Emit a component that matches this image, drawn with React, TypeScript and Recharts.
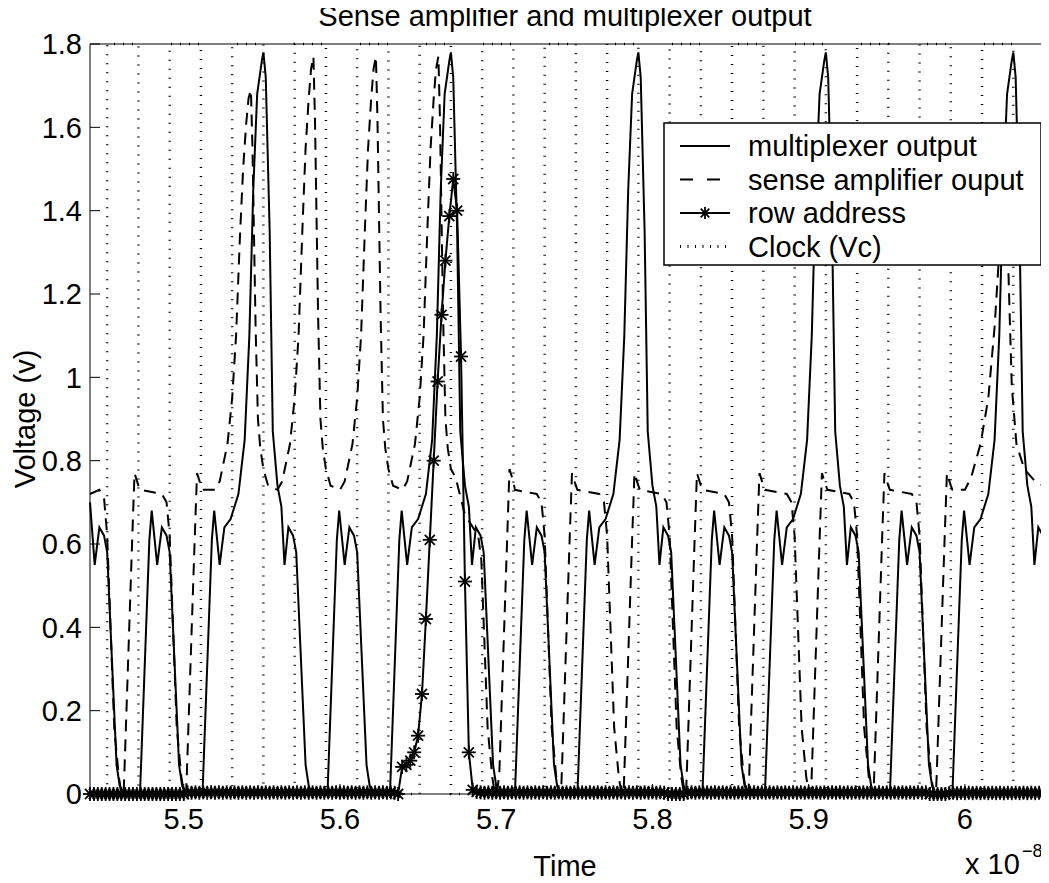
import React from 'react';
import { LineChart, Line, XAxis, YAxis } from 'recharts';

type Pt = [number, number];

const FONT = '"Liberation Sans", Arial, Helvetica, sans-serif';

// time is in units of 1e-8 s, as the axis shows
const xTicks = [5.5, 5.6, 5.7, 5.8, 5.9, 6];
const yTicks = [0, 0.2, 0.4, 0.6, 0.8, 1, 1.2, 1.4, 1.6, 1.8];

const clockEdges = [
  5.451, 5.471, 5.491, 5.511, 5.531, 5.551, 5.571, 5.591, 5.611, 5.631,
  5.651, 5.671, 5.691, 5.711, 5.731, 5.751, 5.771, 5.791, 5.811, 5.831,
  5.851, 5.871, 5.891, 5.911, 5.931, 5.951, 5.971, 5.991, 6.011, 6.031,
];

const muxOutput: Pt[] = [
  [5.44, 0.7], [5.443, 0.55], [5.446, 0.64], [5.449, 0.62], [5.451, 0.58], [5.457, 0.07], [5.459, 0.02], [5.461, 0],
  [5.472, 0], [5.478, 0.61], [5.4795, 0.68], [5.483, 0.55], [5.486, 0.64], [5.489, 0.62], [5.491, 0.58], [5.497, 0.07], [5.499, 0.02], [5.501, 0],
  [5.512, 0], [5.518, 0.61], [5.5195, 0.68], [5.523, 0.55], [5.526, 0.64], [5.53, 0.66], [5.535, 0.72], [5.539, 0.85], [5.542, 1.1], [5.5445, 1.45], [5.547, 1.68], [5.55, 1.76], [5.551, 1.78],
  [5.5525, 1.72], [5.555, 1.35], [5.557, 0.87], [5.56, 0.74], [5.5625, 0.69], [5.5645, 0.55], [5.567, 0.64], [5.57, 0.62], [5.572, 0.58], [5.578, 0.07], [5.58, 0.02], [5.582, 0],
  [5.592, 0], [5.598, 0.61], [5.5995, 0.68], [5.603, 0.55], [5.606, 0.64], [5.609, 0.62], [5.611, 0.58], [5.617, 0.07], [5.619, 0.02], [5.621, 0],
  [5.632, 0], [5.638, 0.61], [5.6395, 0.68], [5.643, 0.55], [5.646, 0.64], [5.65, 0.66], [5.655, 0.72], [5.659, 0.85], [5.662, 1.1], [5.6645, 1.45], [5.667, 1.68], [5.67, 1.76], [5.671, 1.78],
  [5.6725, 1.72], [5.675, 1.35], [5.677, 0.87], [5.68, 0.74], [5.6825, 0.69], [5.6845, 0.55], [5.687, 0.64], [5.69, 0.62], [5.692, 0.58], [5.698, 0.07], [5.7, 0.02], [5.702, 0],
  [5.712, 0], [5.718, 0.61], [5.7195, 0.68], [5.723, 0.55], [5.726, 0.64], [5.729, 0.62], [5.731, 0.58], [5.737, 0.07], [5.739, 0.02], [5.741, 0],
  [5.752, 0], [5.758, 0.61], [5.7595, 0.68], [5.763, 0.55], [5.766, 0.64], [5.77, 0.66], [5.775, 0.72], [5.779, 0.85], [5.782, 1.1], [5.7845, 1.45], [5.787, 1.68], [5.79, 1.76], [5.791, 1.78],
  [5.7925, 1.72], [5.795, 1.35], [5.797, 0.87], [5.8, 0.74], [5.8025, 0.69], [5.8045, 0.55], [5.807, 0.64], [5.81, 0.62], [5.812, 0.58], [5.818, 0.07], [5.82, 0.02], [5.822, 0],
  [5.832, 0], [5.838, 0.61], [5.8395, 0.68], [5.843, 0.55], [5.846, 0.64], [5.849, 0.62], [5.851, 0.58], [5.857, 0.07], [5.859, 0.02], [5.861, 0],
  [5.872, 0], [5.878, 0.61], [5.8795, 0.68], [5.883, 0.55], [5.886, 0.64], [5.89, 0.66], [5.895, 0.72], [5.899, 0.85], [5.902, 1.1], [5.9045, 1.45], [5.907, 1.68], [5.91, 1.76], [5.911, 1.78],
  [5.9125, 1.72], [5.915, 1.35], [5.917, 0.87], [5.92, 0.74], [5.9225, 0.69], [5.9245, 0.55], [5.927, 0.64], [5.93, 0.62], [5.932, 0.58], [5.938, 0.07], [5.94, 0.02], [5.942, 0],
  [5.952, 0], [5.958, 0.61], [5.9595, 0.68], [5.963, 0.55], [5.966, 0.64], [5.969, 0.62], [5.971, 0.58], [5.977, 0.07], [5.979, 0.02], [5.981, 0],
  [5.992, 0], [5.998, 0.61], [5.9995, 0.68], [6.003, 0.55], [6.006, 0.64], [6.01, 0.66], [6.015, 0.72], [6.019, 0.85], [6.022, 1.1], [6.0245, 1.45], [6.027, 1.68], [6.03, 1.76], [6.031, 1.78],
  [6.0325, 1.72], [6.035, 1.35], [6.037, 0.87], [6.04, 0.74], [6.0425, 0.69], [6.0445, 0.55], [6.047, 0.64], [6.05, 0.62],
];

const senseAmpOutput: Pt[] = [
  [5.44, 0.72], [5.446, 0.73], [5.449, 0.71], [5.451, 0.62], [5.4555, 0.16], [5.4585, 0.04], [5.46, 0.005], [5.4615, 0], [5.462, 0.05], [5.467, 0.61], [5.4685, 0.77], [5.471, 0.74],
  [5.472, 0.73], [5.486, 0.72], [5.489, 0.7], [5.491, 0.62], [5.4955, 0.16], [5.4985, 0.04], [5.5, 0.005], [5.5015, 0], [5.502, 0.05], [5.507, 0.61], [5.5085, 0.77], [5.511, 0.74],
  [5.512, 0.73], [5.52, 0.73], [5.523, 0.75], [5.528, 0.84], [5.531, 0.95], [5.5335, 1.1], [5.536, 1.34], [5.538, 1.5], [5.54, 1.61], [5.5415, 1.67], [5.543, 1.69], [5.544, 1.55], [5.546, 1.12], [5.5475, 0.9], [5.549, 0.83], [5.551, 0.78],
  [5.554, 0.74], [5.56, 0.73], [5.563, 0.75], [5.568, 0.84], [5.571, 0.95], [5.5735, 1.1], [5.576, 1.36], [5.578, 1.55], [5.58, 1.67], [5.5815, 1.74], [5.583, 1.77], [5.584, 1.62], [5.586, 1.15], [5.5875, 0.9], [5.589, 0.83], [5.591, 0.78],
  [5.594, 0.74], [5.6, 0.73], [5.603, 0.75], [5.608, 0.84], [5.611, 0.95], [5.6135, 1.1], [5.616, 1.36], [5.618, 1.55], [5.62, 1.67], [5.6215, 1.74], [5.623, 1.77], [5.624, 1.62], [5.626, 1.15], [5.6275, 0.9], [5.629, 0.83], [5.631, 0.78],
  [5.634, 0.74], [5.64, 0.73], [5.643, 0.75], [5.648, 0.84], [5.651, 0.95], [5.6535, 1.1], [5.656, 1.36], [5.658, 1.55], [5.66, 1.67], [5.6615, 1.74], [5.663, 1.77], [5.664, 1.62], [5.666, 1.15], [5.6675, 0.9], [5.669, 0.83], [5.671, 0.78],
  [5.674, 0.76], [5.678, 0.7], [5.68, 0.67], [5.6885, 0.62], [5.6905, 0.56], [5.6945, 0.16], [5.6975, 0.04], [5.699, 0.005], [5.7005, 0], [5.702, 0.05], [5.707, 0.61], [5.7085, 0.78], [5.711, 0.75],
  [5.712, 0.73], [5.726, 0.72], [5.729, 0.7], [5.731, 0.62], [5.7355, 0.16], [5.7385, 0.04], [5.74, 0.005], [5.7415, 0], [5.742, 0.05], [5.747, 0.61], [5.7485, 0.77], [5.751, 0.74],
  [5.752, 0.73], [5.766, 0.72], [5.769, 0.7], [5.771, 0.62], [5.7755, 0.16], [5.7785, 0.04], [5.78, 0.005], [5.7815, 0], [5.782, 0.05], [5.787, 0.61], [5.7885, 0.77], [5.791, 0.74],
  [5.792, 0.73], [5.806, 0.72], [5.809, 0.7], [5.811, 0.62], [5.8155, 0.16], [5.8185, 0.04], [5.82, 0.005], [5.8215, 0], [5.822, 0.05], [5.827, 0.61], [5.8285, 0.77], [5.831, 0.74],
  [5.832, 0.73], [5.846, 0.72], [5.849, 0.7], [5.851, 0.62], [5.8555, 0.16], [5.8585, 0.04], [5.86, 0.005], [5.8615, 0], [5.862, 0.05], [5.867, 0.61], [5.8685, 0.77], [5.871, 0.74],
  [5.872, 0.73], [5.886, 0.72], [5.889, 0.7], [5.891, 0.62], [5.8955, 0.16], [5.8985, 0.04], [5.9, 0.005], [5.9015, 0], [5.902, 0.05], [5.907, 0.61], [5.9085, 0.77], [5.911, 0.74],
  [5.912, 0.73], [5.926, 0.72], [5.929, 0.7], [5.931, 0.62], [5.9355, 0.16], [5.9385, 0.04], [5.94, 0.005], [5.9415, 0], [5.942, 0.05], [5.947, 0.61], [5.9485, 0.77], [5.951, 0.74],
  [5.952, 0.73], [5.966, 0.72], [5.969, 0.7], [5.971, 0.62], [5.9755, 0.16], [5.9785, 0.04], [5.98, 0.005], [5.9815, 0], [5.982, 0.05], [5.987, 0.61], [5.9885, 0.77], [5.991, 0.74],
  [5.992, 0.73], [6.0, 0.73], [6.004, 0.76], [6.01, 0.84], [6.015, 0.95], [6.019, 1.12], [6.022, 1.3], [6.0245, 1.42], [6.026, 1.46], [6.0275, 1.3], [6.03, 0.98], [6.033, 0.84], [6.038, 0.78], [6.045, 0.75], [6.05, 0.74],
];

// row address: samples every 0.0025 before and after the pulse
const rowBefore = [
  0, 0, 0, 0, 0, 0, 0, 0, 0, 0, 0, 0, 0, 0, 0, 0, 0, 0, 0, 0,
  0, 0, 0, 0, 0, 0.004, 0.003, 0.004, 0.003, 0.004, 0.003, 0.004, 0.003, 0.004, 0.003, 0.004, 0.003, 0.004, 0.003, 0.004,
  0.003, 0.004, 0.003, 0.004, 0.003, 0.004, 0.003, 0.004, 0.003, 0.004, 0.003, 0.004, 0.003, 0.004, 0.003, 0.004, 0.003, 0.004, 0.003, 0.004,
  0.003, 0.004, 0.003, 0.004, 0.003, 0.004, 0.003, 0.004, 0.003, 0.004, 0.003, 0.004, 0.003, 0.004, 0.003, 0.004, 0.003, 0.004, 0.003,
];
const rowPulse: Pt[] = [
  [5.6372, 0], [5.6398, 0.065], [5.6425, 0.07], [5.645, 0.08], [5.6475, 0.1], [5.65, 0.14], [5.6525, 0.24],
  [5.655, 0.42], [5.6575, 0.61], [5.66, 0.8], [5.6625, 0.99], [5.665, 1.15], [5.6675, 1.28], [5.67, 1.387],
  [5.6725, 1.476], [5.675, 1.4], [5.6775, 1.05], [5.68, 0.51], [5.6825, 0.1], [5.685, 0.01],
];
const rowAfter = [
  0.005, 0.004, 0.003, 0.004, 0.003, 0.004, 0.003, 0.004, 0.003, 0.004, 0.003, 0.004, 0.003, 0.004, 0.003, 0.004, 0.003, 0.004, 0.003, 0.004,
  0.003, 0.004, 0.003, 0.004, 0.003, 0.004, 0.003, 0.004, 0.003, 0.004, 0.003, 0.004, 0.003, 0.004, 0.003, 0.004, 0.003, 0.004, 0.003, 0.004,
  0.003, 0.004, 0.003, 0.004, 0.003, 0.004, 0.003, 0.004, 0.003, 0, 0, 0, 0, 0, 0.003, 0.004, 0.003, 0.004, 0.003, 0.004,
  0.003, 0.004, 0.003, 0.004, 0.003, 0.004, 0.003, 0.004, 0.003, 0.004, 0.003, 0.004, 0.003, 0.004, 0.003, 0.004, 0.003, 0.004, 0.003, 0.004,
  0.003, 0.004, 0.003, 0.004, 0.003, 0.004, 0.003, 0.004, 0.003, 0.004, 0.003, 0.004, 0.003, 0.004, 0.003, 0.004, 0.003, 0.004, 0.003, 0.004,
  0.003, 0.004, 0.003, 0.004, 0.003, 0.004, 0.003, 0.004, 0.003, 0.004, 0.003, 0.004, 0.003, 0.004, 0.003, 0.004, 0, 0, 0, 0,
  0, 0.002, 0.003, 0.002, 0.003, 0.002, 0.003, 0.002, 0.003, 0.002, 0.003, 0.002, 0.003, 0.002, 0.003, 0.002, 0.003, 0.002, 0.003, 0.002,
  0.003, 0.002, 0.003, 0.002, 0.003, 0.002,
];

const STEP = 0.0025;
const toRows = (pts: Pt[]) => pts.map(([t, v]) => ({ t, v }));
const onGrid = (vals: number[], start: number) =>
  vals.map((v, i) => ({ t: +(start + i * STEP).toFixed(4), v }));

const muxData = toRows(muxOutput);
const senseData = toRows(senseAmpOutput);
const rowData = [...onGrid(rowBefore, 5.44), ...toRows(rowPulse), ...onGrid(rowAfter, 5.6875)];

const clockData = (() => {
  const out = [{ t: 5.44, v: 0 }];
  clockEdges.forEach((t, j) => {
    const before = j % 2 === 0 ? 0 : 1.8;
    out.push({ t, v: before }, { t, v: 1.8 - before });
  });
  out.push({ t: 6.05, v: 0 });
  return out;
})();

const fmt = (v: number) => String(Math.round(v * 10) / 10);

const StarShape = ({ cx, cy, r = 7 }: { cx: number; cy: number; r?: number }) => {
  const d = r * 0.72;
  return (
    <g stroke="#000" strokeWidth={1.8}>
      <line x1={cx - r} y1={cy} x2={cx + r} y2={cy} />
      <line x1={cx} y1={cy - r} x2={cx} y2={cy + r} />
      <line x1={cx - d} y1={cy - d} x2={cx + d} y2={cy + d} />
      <line x1={cx - d} y1={cy + d} x2={cx + d} y2={cy - d} />
    </g>
  );
};

const renderStar = (props: any) => {
  const { cx, cy, index } = props;
  if (cx == null || cy == null) return <g key={`s-${index}`} />;
  return <StarShape key={`s-${index}`} cx={cx} cy={cy} />;
};

const W = 1041;
const H = 875;
const tickFont = { fill: '#000', fontSize: 29, fontFamily: FONT };

const legendRows = [
  { label: 'multiplexer output', kind: 'solid' },
  { label: 'sense amplifier ouput', kind: 'dashed' },
  { label: 'row address', kind: 'star' },
  { label: 'Clock (Vc)', kind: 'dotted' },
];

export default function App() {
  return (
    <div style={{ position: 'relative', width: W, height: H, background: '#fff', fontFamily: FONT }}>
      <LineChart width={W} height={H} margin={{ top: 35, right: 5, bottom: 29, left: 0 }}>
        <XAxis
          xAxisId="main"
          type="number"
          dataKey="t"
          domain={[5.44, 6.05]}
          ticks={xTicks}
          interval={0}
          tickFormatter={fmt}
          tickSize={-10}
          tickMargin={24}
          height={60}
          stroke="#000"
          tick={tickFont}
        />
        <XAxis
          xAxisId="top"
          orientation="top"
          type="number"
          dataKey="t"
          domain={[5.44, 6.05]}
          ticks={xTicks}
          interval={0}
          tick={false}
          tickSize={-10}
          height={1}
          stroke="#000"
        />
        <YAxis
          yAxisId="main"
          type="number"
          domain={[0, 1.8]}
          ticks={yTicks}
          interval={0}
          tickFormatter={fmt}
          tickSize={-10}
          tickMargin={18}
          width={82}
          stroke="#000"
          tick={tickFont}
        />
        <YAxis
          yAxisId="right"
          orientation="right"
          type="number"
          domain={[0, 1.8]}
          ticks={yTicks}
          interval={0}
          tick={false}
          tickSize={-10}
          width={1}
          stroke="#000"
        />
        <Line
          xAxisId="top"
          yAxisId="right"
          data={clockData}
          dataKey="v"
          type="linear"
          stroke="#000"
          strokeWidth={2.5}
          strokeDasharray="1 8"
          dot={false}
          activeDot={false}
          isAnimationActive={false}
        />
        <Line
          xAxisId="main"
          yAxisId="main"
          data={senseData}
          dataKey="v"
          type="linear"
          stroke="#000"
          strokeWidth={2}
          strokeDasharray="12 8"
          dot={false}
          activeDot={false}
          isAnimationActive={false}
        />
        <Line
          xAxisId="main"
          yAxisId="main"
          data={muxData}
          dataKey="v"
          type="linear"
          stroke="#000"
          strokeWidth={2}
          dot={false}
          activeDot={false}
          isAnimationActive={false}
        />
        <Line
          xAxisId="main"
          yAxisId="main"
          data={rowData}
          dataKey="v"
          type="linear"
          stroke="#000"
          strokeWidth={2}
          dot={renderStar}
          activeDot={false}
          isAnimationActive={false}
        />
      </LineChart>

      <svg
        width={W}
        height={H}
        style={{ position: 'absolute', left: 0, top: 0, pointerEvents: 'none', overflow: 'visible' }}
      >
        <text x={557} y={18} textAnchor="middle" fontSize={29} fontFamily={FONT} fill="#000">
          Sense amplifier and multiplexer output
        </text>
        <text x={557} y={868} textAnchor="middle" fontSize={29} fontFamily={FONT} fill="#000">
          Time
        </text>
        <text x={957} y={866} fontSize={29} fontFamily={FONT} fill="#000">
          x 10
        </text>
        <text x={1014} y={849} fontSize={18} fontFamily={FONT} fill="#000">
          −8
        </text>
        <text
          x={0}
          y={0}
          transform="translate(27 411) rotate(-90)"
          textAnchor="middle"
          fontSize={29}
          fontFamily={FONT}
          fill="#000"
        >
          Voltage (v)
        </text>

        <rect x={656} y={115} width={377} height={142} fill="#fff" stroke="#000" strokeWidth={1.5} />
        {legendRows.map((row, i) => {
          const cy = 138 + i * 33.5;
          return (
            <g key={row.label}>
              {row.kind === 'solid' && <line x1={672} y1={cy} x2={722} y2={cy} stroke="#000" strokeWidth={2} />}
              {row.kind === 'dashed' && (
                <line x1={672} y1={cy} x2={722} y2={cy} stroke="#000" strokeWidth={2} strokeDasharray="13 14" />
              )}
              {row.kind === 'star' && (
                <>
                  <line x1={672} y1={cy} x2={722} y2={cy} stroke="#000" strokeWidth={2} />
                  <StarShape cx={697} cy={cy} r={6} />
                </>
              )}
              {row.kind === 'dotted' && (
                <line x1={672} y1={cy} x2={722} y2={cy} stroke="#000" strokeWidth={3} strokeDasharray="1 6.5" />
              )}
              <text x={740} y={cy + 10} fontSize={29} fontFamily={FONT} fill="#000">
                {row.label}
              </text>
            </g>
          );
        })}
      </svg>
    </div>
  );
}
